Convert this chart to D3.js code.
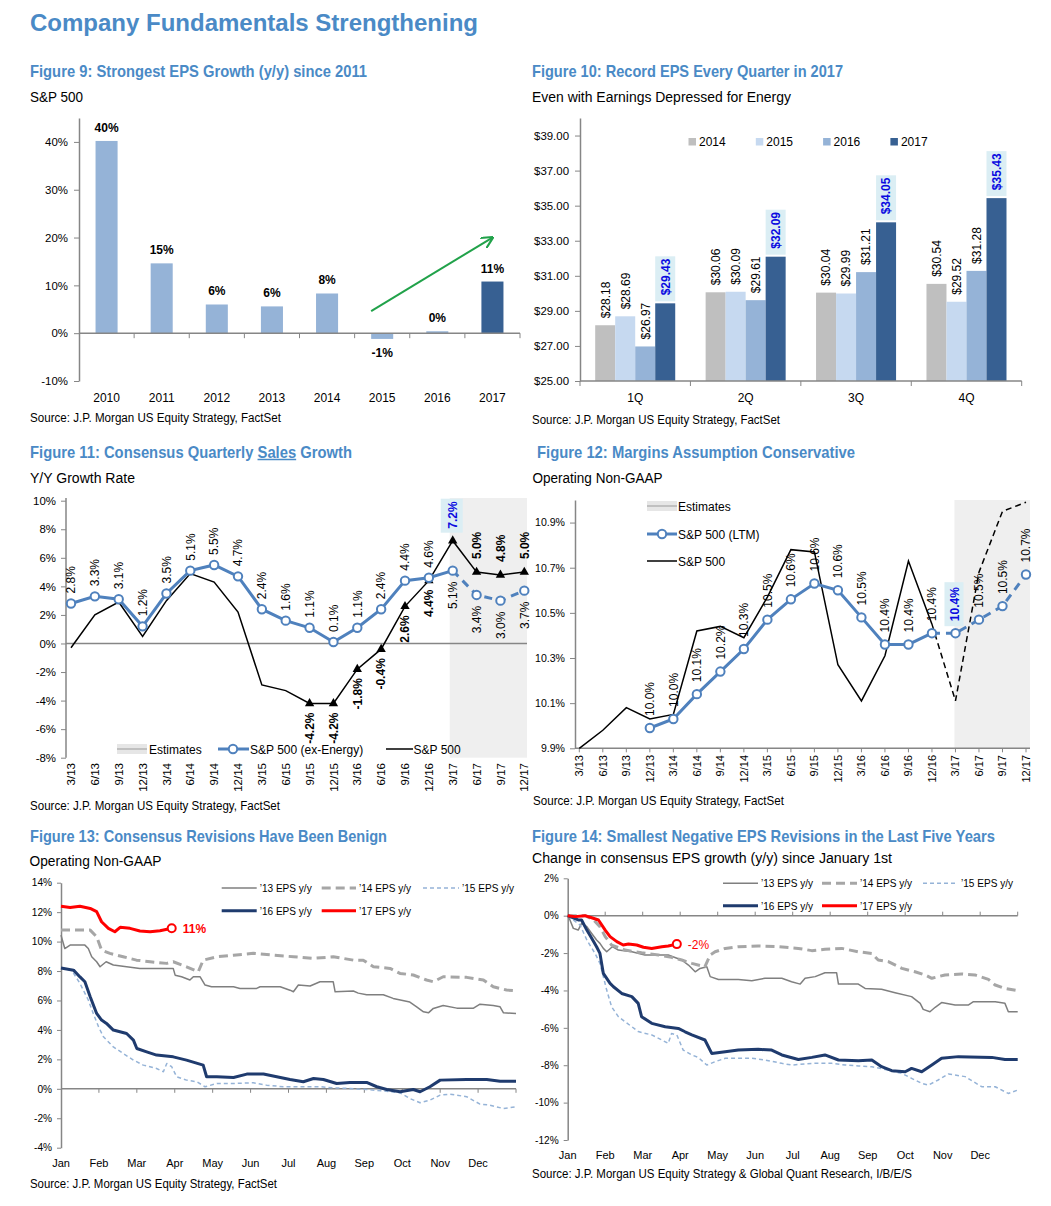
<!DOCTYPE html>
<html>
<head>
<meta charset="utf-8">
<script src="https://cdn.jsdelivr.net/npm/d3@7"></script>
<style>
  body { margin: 0; background: #fff; }
  svg { font-family: "Liberation Sans", Arial, sans-serif; }
</style>
</head>
<body>
<svg id="chart" width="1051" height="1206"></svg>
<script>
// ---------- data ----------
// Figure 9
var fig9_years = ['2010', '2011', '2012', '2013', '2014', '2015', '2016', '2017'],
    fig9_growth = [40.2, 14.6, 6.0, 5.6, 8.3, -1.2, 0.4, 10.8],
    fig9_labels = ['40%', '15%', '6%', '6%', '8%', '-1%', '0%', '11%'],
    fig9_ticks = [-10, 0, 10, 20, 30, 40];

// Figure 10
var fig10_quarters = ['1Q', '2Q', '3Q', '4Q'],
    fig10_years = ['2014', '2015', '2016', '2017'],
    eps_2014 = [28.18, 30.06, 30.04, 30.54],
    eps_2015 = [28.69, 30.09, 29.99, 29.52],
    eps_2016 = [26.97, 29.61, 31.21, 31.28],
    eps_2017 = [29.43, 32.09, 34.05, 35.43],
    fig10_ticks = [25, 27, 29, 31, 33, 35, 37, 39];

// Figure 11 / 12 (quarters)
var quarters = ['3/13', '6/13', '9/13', '12/13', '3/14', '6/14', '9/14', '12/14', '3/15', '6/15',
                '9/15', '12/15', '3/16', '6/16', '9/16', '12/16', '3/17', '6/17', '9/17', '12/17'],
    sales_ex_energy = [2.8, 3.3, 3.1, 1.2, 3.5, 5.1, 5.5, 4.7, 2.4, 1.6, 1.1, 0.1, 1.1, 2.4, 4.4, 4.6, 5.1, 3.4, 3.0, 3.7],
    sales_sp500 = [-0.3, 2.0, 2.9, 0.5, 3.0, 4.9, 4.3, 2.2, -2.9, -3.3, -4.2, -4.2, -1.8, -0.4, 2.6, 4.4, 7.2, 5.0, 4.8, 5.0],
    fig11_ticks = [-8, -6, -4, -2, 0, 2, 4, 6, 8, 10];

var margin_ltm = [null, null, null, 9.99, 10.03, 10.14, 10.24, 10.34, 10.47, 10.56,
                  10.63, 10.60, 10.48, 10.36, 10.36, 10.41, 10.41, 10.47, 10.53, 10.67],
    margin_sp500 = [9.90, 9.98, 10.08, 10.03, 10.05, 10.42, 10.44, 10.39, 10.57, 10.78,
                    10.77, 10.27, 10.11, 10.31, 10.73, 10.45, 10.11, 10.68, 10.95, 10.99],
    fig12_ticks = [9.9, 10.1, 10.3, 10.5, 10.7, 10.9];

// Figure 13 / 14: [months since Jan 1, value]
var months = ['Jan', 'Feb', 'Mar', 'Apr', 'May', 'Jun', 'Jul', 'Aug', 'Sep', 'Oct', 'Nov', 'Dec'],
    fig13_ticks = [-4, -2, 0, 2, 4, 6, 8, 10, 12, 14],
    fig14_ticks = [-12, -10, -8, -6, -4, -2, 0, 2];

var rev13_eps13 = [[0,10.44],[0.1,9.53],[0.24,9.76],[0.63,9.76],[0.72,9.53],[0.81,8.97],[0.94,8.63],[1.03,8.29],[1.19,8.63],[1.38,8.41],[1.73,8.29],[2.08,8.18],[2.96,8.18],[3.01,7.72],[3.18,7.61],[3.4,7.39],[3.49,7.61],[3.67,7.61],[3.8,7.05],[3.97,6.93],[4.55,6.93],[4.72,6.82],[5.16,6.82],[5.25,6.93],[5.78,6.93],[6.04,6.7],[6.13,6.59],[6.26,7.05],[6.57,6.98],[6.83,7.27],[7.18,7.27],[7.23,6.59],[7.71,6.64],[7.84,6.5],[8.06,6.39],[8.5,6.39],[8.76,6.14],[9.2,5.89],[9.38,5.57],[9.56,5.23],[9.69,5.16],[9.82,5.46],[10.08,5.66],[10.44,5.48],[10.88,5.48],[11.05,5.75],[11.4,5.66],[11.58,5.57],[11.67,5.16],[12,5.12]],
    rev13_eps14 = [[0,10.78],[0.77,10.78],[0.94,10.33],[1.07,9.42],[1.29,9.2],[1.64,8.97],[1.99,8.74],[2.35,8.63],[2.79,8.52],[2.96,8.63],[3.31,8.29],[3.62,7.95],[3.75,8.74],[4.11,8.97],[4.55,9.08],[5.07,9.2],[5.6,9.08],[6.13,8.97],[6.66,8.86],[7.18,8.97],[7.71,8.74],[7.97,8.74],[8.24,8.29],[8.68,8.18],[8.94,7.84],[9.29,7.73],[9.64,7.39],[9.82,7.27],[10.08,7.61],[10.7,7.57],[11.14,7.39],[11.4,6.93],[11.75,6.71],[12,6.66]],
    rev13_eps15 = [[0,8.2],[0.28,8.06],[0.5,7.16],[0.72,6.03],[0.85,5.12],[0.99,4.21],[1.12,3.53],[1.38,2.85],[1.64,2.4],[1.91,1.95],[2.17,1.61],[2.52,1.38],[2.7,1.16],[2.79,1.72],[2.92,1.5],[3.05,0.82],[3.31,0.59],[3.58,0.48],[3.8,0.14],[4.11,0.36],[4.55,0.36],[5.07,0.41],[5.42,0.25],[5.86,0.14],[6.3,0.14],[6.83,0.14],[7.18,0.07],[7.62,0.02],[8.06,-0.05],[8.5,-0.14],[8.94,-0.27],[9.2,-0.66],[9.47,-0.95],[9.73,-0.77],[10.0,-0.43],[10.26,-0.36],[10.7,-0.54],[11.05,-1.04],[11.31,-1.11],[11.67,-1.34],[12,-1.22]],
    rev13_eps16 = [[0,8.2],[0.33,8.06],[0.5,7.6],[0.63,7.27],[0.77,6.25],[0.94,5.12],[1.07,4.67],[1.2,4.44],[1.38,3.99],[1.73,3.76],[1.91,3.31],[2.0,2.74],[2.26,2.51],[2.52,2.29],[2.96,2.17],[3.31,1.95],[3.75,1.61],[3.84,0.82],[4.11,0.82],[4.55,0.77],[4.9,1.0],[5.34,1.0],[5.69,0.82],[6.04,0.63],[6.39,0.48],[6.66,0.7],[6.92,0.63],[7.27,0.36],[7.62,0.43],[8.06,0.43],[8.33,0.14],[8.59,-0.05],[8.94,-0.2],[9.29,-0.05],[9.47,-0.2],[9.73,0.14],[10.0,0.59],[10.7,0.63],[11.23,0.63],[11.58,0.52],[12,0.52]],
    rev13_eps17 = [[0,12.4],[0.24,12.32],[0.5,12.4],[0.77,12.25],[0.94,12.03],[1.07,11.35],[1.25,10.9],[1.42,10.67],[1.56,10.97],[1.82,10.9],[2.08,10.72],[2.35,10.67],[2.61,10.74],[2.92,10.9]];

var rev14_eps13 = [[0,0],[0.06,-0.23],[0.15,-0.68],[0.28,-0.77],[0.37,-0.41],[0.51,-0.59],[0.64,-0.95],[0.77,-1.3],[0.86,-1.48],[0.95,-1.75],[1.04,-1.93],[1.19,-1.66],[1.35,-1.84],[1.71,-1.93],[2.06,-2.1],[2.68,-2.1],[3.04,-2.37],[3.22,-2.64],[3.4,-3.0],[3.53,-2.82],[3.71,-2.73],[3.8,-3.26],[4.02,-3.41],[4.55,-3.41],[4.91,-3.48],[5.26,-3.35],[5.71,-3.35],[5.97,-3.53],[6.2,-3.66],[6.33,-3.35],[6.6,-3.26],[6.86,-3.05],[7.17,-3.05],[7.22,-3.66],[7.75,-3.66],[7.93,-3.89],[8.37,-3.94],[8.73,-4.12],[9.17,-4.33],[9.4,-4.69],[9.48,-5.01],[9.66,-5.14],[9.8,-4.9],[9.97,-4.65],[10.33,-4.78],[10.68,-4.78],[10.82,-4.6],[11.4,-4.6],[11.66,-4.69],[11.75,-5.14],[12,-5.14]],
    rev14_eps14 = [[0,0],[0.46,0],[0.68,-0.2],[0.86,-0.59],[1.0,-1.12],[1.17,-1.57],[1.53,-1.84],[1.97,-1.98],[2.42,-2.1],[2.77,-2.23],[3.04,-2.37],[3.31,-2.55],[3.66,-2.73],[3.8,-2.1],[3.93,-1.93],[4.2,-1.75],[4.55,-1.66],[5.08,-1.62],[5.62,-1.66],[6.15,-1.75],[6.51,-1.87],[6.86,-1.8],[7.31,-1.75],[7.75,-1.93],[8.11,-2.02],[8.28,-2.37],[8.55,-2.46],[8.91,-2.82],[9.26,-3.0],[9.53,-3.17],[9.71,-3.35],[10.06,-3.17],[10.51,-3.12],[10.86,-3.17],[11.22,-3.41],[11.4,-3.71],[11.66,-3.89],[12,-4.01]],
    rev14_eps15 = [[0,0],[0.33,-0.5],[0.51,-1.3],[0.73,-2.02],[0.86,-2.55],[0.95,-3.26],[1.04,-3.98],[1.17,-4.87],[1.35,-5.4],[1.53,-5.67],[1.71,-5.94],[1.88,-6.2],[2.24,-6.38],[2.51,-6.65],[2.68,-6.83],[2.77,-6.3],[2.91,-6.38],[3.08,-7.19],[3.31,-7.45],[3.48,-7.58],[3.71,-7.99],[3.93,-7.81],[4.2,-7.63],[4.91,-7.63],[5.26,-7.72],[5.71,-7.9],[5.97,-7.99],[6.51,-7.9],[7.04,-7.9],[7.4,-7.99],[7.75,-8.04],[8.11,-8.08],[8.55,-8.26],[8.91,-8.44],[9.17,-8.7],[9.44,-8.97],[9.62,-9.06],[9.88,-8.79],[10.15,-8.47],[10.6,-8.61],[10.82,-8.88],[11.04,-9.15],[11.4,-9.15],[11.75,-9.51],[12,-9.33]],
    rev14_eps16 = [[0,0],[0.28,-0.23],[0.37,-0.23],[0.51,-0.77],[0.64,-1.21],[0.77,-1.66],[0.86,-2.02],[0.95,-3.09],[1.13,-3.62],[1.22,-3.8],[1.44,-4.16],[1.71,-4.33],[1.88,-4.69],[1.97,-5.4],[2.24,-5.76],[2.6,-5.94],[2.95,-6.03],[3.13,-6.21],[3.31,-6.38],[3.66,-6.65],[3.84,-7.37],[4.2,-7.28],[4.55,-7.19],[5.08,-7.15],[5.44,-7.19],[5.71,-7.45],[6.15,-7.69],[6.51,-7.58],[6.86,-7.45],[7.22,-7.72],[7.75,-7.76],[8.11,-7.72],[8.37,-8.08],[8.64,-8.29],[9.0,-8.35],[9.17,-8.17],[9.44,-8.35],[9.71,-7.99],[9.97,-7.63],[10.42,-7.54],[11.31,-7.58],[11.66,-7.69],[12,-7.69]],
    rev14_eps17 = [[0,0],[0.2,-0.05],[0.46,0],[0.64,-0.11],[0.82,-0.23],[1.0,-0.77],[1.13,-1.12],[1.31,-1.39],[1.48,-1.57],[1.62,-1.52],[1.84,-1.57],[2.02,-1.69],[2.24,-1.75],[2.51,-1.66],[2.68,-1.62],[2.91,-1.52]];

var rev_names = ['\u201913 EPS y/y', '\u201914 EPS y/y', '\u201915 EPS y/y', '\u201916 EPS y/y', '\u201917 EPS y/y'];

// ---------- styles ----------
var title_blue = '#4a8ac6',
    axis_grey = '#868686',
    bar_light = '#95b3d7',
    bar_dark = '#376092',
    ltm_blue = '#4f81bd',
    est_fill = '#efefef',
    box_fill = '#dbeef4',
    hi_blue = '#0a0ae0';

var rev_styles = [
  {color: '#7f7f7f', width: 1.5, dash: null},
  {color: '#a6a6a6', width: 3, dash: '9,5'},
  {color: '#95b3d7', width: 1.5, dash: '4,3'},
  {color: '#1f3b6e', width: 3, dash: null},
  {color: '#ff0000', width: 3, dash: null}
];

var svg = d3.select('#chart');

// narrow face for titles / ticks if the machine has it
function has_font(name) {
  var t = svg.append('text').attr('font-size', 40).text('abcdefghijklmnopqrstuvwxyz0123');
  t.attr('font-family', 'monospace');
  var w0 = t.node().getComputedTextLength();
  t.attr('font-family', '"' + name + '", monospace');
  var w1 = t.node().getComputedTextLength();
  t.remove();
  return Math.abs(w0 - w1) > 1;
}
var has_narrow = has_font('Liberation Sans Narrow'),
    narrow_font = has_narrow ? '"Liberation Sans Narrow", "Liberation Sans", Arial, sans-serif' : null,
    tick_scale = has_narrow ? 1 : 0.88;

function add_text(g, x, y, str, size, o) {
  o = o || {};
  var t = g.append('text')
    .attr('x', x).attr('y', y)
    .attr('font-size', size)
    .attr('font-family', o.narrow ? narrow_font : null)
    .attr('font-weight', o.bold ? 'bold' : null)
    .attr('fill', o.fill || '#000')
    .attr('text-anchor', o.anchor || 'start')
    .text(str);
  if (o.width) {
    // keep the natural run inside the page, then fit it to the measured width
    var nat = t.node().getComputedTextLength();
    if (x + nat > 1046) t.attr('font-size', size * (1046 - x) / nat);
    t.attr('textLength', o.width).attr('lengthAdjust', 'spacingAndGlyphs');
  }
  return t;
}

// rotated label: 'start' grows upward from y, 'end' finishes at y and grows downward
function vlabel(g, x, y, str, size, o) {
  o = o || {};
  return g.append('text')
    .attr('transform', 'translate(' + (x + size * 0.36) + ',' + y + ') rotate(-90)')
    .attr('text-anchor', o.anchor || 'start')
    .attr('font-size', size)
    .attr('font-weight', o.bold ? 'bold' : null)
    .attr('fill', o.fill || '#000')
    .text(str);
}

function style_axis(g, size) {
  g.attr('font-family', narrow_font).attr('font-size', null);
  g.select('.domain').attr('stroke', axis_grey).attr('stroke-width', 1.5);
  g.selectAll('.tick line').attr('stroke', axis_grey).attr('stroke-width', 1);
  g.selectAll('.tick text').attr('font-size', size * tick_scale).attr('fill', '#000');
}

function hline(g, x1, x2, y, color, w, dash) {
  return g.append('line').attr('x1', x1).attr('x2', x2).attr('y1', y).attr('y2', y)
    .attr('stroke', color).attr('stroke-width', w).attr('stroke-dasharray', dash || null);
}

function vtick(g, x, y, len) {
  g.append('line').attr('x1', x).attr('x2', x).attr('y1', y).attr('y2', y + len)
    .attr('stroke', axis_grey).attr('stroke-width', 1);
}

function pct(d) { return d + '%'; }

// ---------- headings ----------
add_text(svg, 30, 31, 'Company Fundamentals Strengthening', 24, {bold: 1, fill: title_blue, width: 448});

add_text(svg, 30, 77, 'Figure 9: Strongest EPS Growth (y/y) since 2011', 17, {bold: 1, narrow: 1, fill: title_blue, width: 337});
add_text(svg, 30, 102, 'S&P 500', 14, {width: 53});
add_text(svg, 30, 422, 'Source: J.P. Morgan US Equity Strategy, FactSet', 12, {width: 251});

add_text(svg, 532, 77, 'Figure 10: Record EPS Every Quarter in 2017', 17, {bold: 1, narrow: 1, fill: title_blue, width: 311});
add_text(svg, 532, 101.5, 'Even with Earnings Depressed for Energy', 14, {width: 259});
add_text(svg, 532, 424, 'Source: J.P. Morgan US Equity Strategy, FactSet', 12, {width: 248});

var t11 = add_text(svg, 30, 457.5, 'Figure 11: Consensus Quarterly Sales Growth', 17, {bold: 1, narrow: 1, fill: title_blue, width: 322});
(function() {
  var node = t11.node(), s0 = 'Figure 11: Consensus Quarterly '.length, s1 = s0 + 4;
  var a = node.getStartPositionOfChar(s0).x, b = node.getEndPositionOfChar(s1).x;
  hline(svg, a, b, 459.5, title_blue, 1.3);
})();
add_text(svg, 30, 483, 'Y/Y Growth Rate', 14, {width: 105});
add_text(svg, 30, 810, 'Source: J.P. Morgan US Equity Strategy, FactSet', 12, {width: 250});

add_text(svg, 537, 458, 'Figure 12: Margins Assumption Conservative', 17, {bold: 1, narrow: 1, fill: title_blue, width: 318});
add_text(svg, 532.5, 483, 'Operating Non-GAAP', 14, {width: 130});
add_text(svg, 533, 805, 'Source: J.P. Morgan US Equity Strategy, FactSet', 12, {width: 251});

add_text(svg, 30, 842, 'Figure 13: Consensus Revisions Have Been Benign', 17, {bold: 1, narrow: 1, fill: title_blue, width: 357});
add_text(svg, 29.5, 866, 'Operating Non-GAAP', 14, {width: 132});
add_text(svg, 30, 1188, 'Source: J.P. Morgan US Equity Strategy, FactSet', 12, {width: 247});

add_text(svg, 532, 842, 'Figure 14: Smallest Negative EPS Revisions in the Last Five Years', 17, {bold: 1, narrow: 1, fill: title_blue, width: 463});
add_text(svg, 532, 863, 'Change in consensus EPS growth (y/y) since January 1st', 14, {width: 360});
add_text(svg, 532, 1178, 'Source: J.P. Morgan US Equity Strategy & Global Quant Research, I/B/E/S', 12, {width: 380});

// ---------- Figure 9 ----------
var g9 = svg.append('g');
var x9 = d3.scaleBand().domain(fig9_years).range([79, 520]).paddingInner(0.6).paddingOuter(0.3),
    y9 = d3.scaleLinear().domain([-10, 45]).range([381, 118]);

g9.selectAll('rect.bar').data(fig9_growth).enter().append('rect')
  .attr('class', 'bar')
  .attr('x', function(d, i) { return x9(fig9_years[i]); })
  .attr('width', x9.bandwidth())
  .attr('y', function(d) { return y9(Math.max(d, 0)); })
  .attr('height', function(d) { return Math.abs(y9(d) - y9(0)); })
  .attr('fill', function(d, i) { return i === fig9_years.length - 1 ? bar_dark : bar_light; });

g9.append('g').attr('transform', 'translate(79,0)')
  .call(d3.axisLeft(y9).tickValues(fig9_ticks).tickFormat(pct).tickSize(5).tickSizeOuter(0).tickPadding(6))
  .call(style_axis, 13);

hline(g9, 79, 520, y9(0), axis_grey, 1.5);
d3.range(1, fig9_years.length + 1).forEach(function(i) { vtick(g9, 79 + i * x9.step(), y9(0), 5); });

fig9_years.forEach(function(yr, i) {
  var cx = x9(yr) + x9.bandwidth() / 2, v = fig9_growth[i];
  add_text(g9, cx, 401.5, yr, 12, {anchor: 'middle'});
  add_text(g9, cx, v >= 0 ? y9(v) - 9 : y9(v) + 18, fig9_labels[i], 12, {anchor: 'middle', bold: 1});
});

svg.append('defs').append('marker')
  .attr('id', 'arrow_green').attr('viewBox', '0 0 10 10').attr('refX', 9).attr('refY', 5)
  .attr('markerWidth', 6).attr('markerHeight', 6).attr('orient', 'auto')
  .append('path').attr('d', 'M0,0 L10,5 L0,10').attr('fill', 'none').attr('stroke', '#21a24a').attr('stroke-width', 1.8);
g9.append('line')
  .attr('x1', x9('2015')).attr('y1', y9(4.6))
  .attr('x2', x9('2017') + x9.bandwidth() / 2).attr('y2', y9(20))
  .attr('stroke', '#21a24a').attr('stroke-width', 2).attr('marker-end', 'url(#arrow_green)');

// ---------- Figure 10 ----------
var g10 = svg.append('g');
var x10 = d3.scaleBand().domain(fig10_quarters).range([580, 1021.7]),
    x10_inner = d3.scaleBand().domain(fig10_years).range([0, x10.bandwidth()]).paddingInner(0).paddingOuter(0.76),
    y10 = d3.scaleLinear().domain([25, 40]).range([381, 118]),
    fig10_colors = d3.scaleOrdinal().domain(fig10_years).range(['#bfbfbf', '#c6d9f0', bar_light, bar_dark]);

var eps_series = [eps_2014, eps_2015, eps_2016, eps_2017];

g10.append('g').attr('transform', 'translate(580,0)')
  .call(d3.axisLeft(y10).tickValues(fig10_ticks).tickFormat(function(d) { return '$' + d.toFixed(2); })
        .tickSize(5).tickSizeOuter(0).tickPadding(6))
  .call(style_axis, 13);

fig10_years.forEach(function(yr, s) {
  var vals = eps_series[s];
  fig10_quarters.forEach(function(q, i) {
    var bx = x10(q) + x10_inner(yr), bw = x10_inner.bandwidth(), top = y10(vals[i]);
    g10.append('rect').attr('x', bx).attr('width', bw).attr('y', top).attr('height', y10(25) - top)
      .attr('fill', fig10_colors(yr));
    if (s === fig10_years.length - 1) {
      g10.append('rect').attr('x', bx).attr('width', bw).attr('y', top - 47).attr('height', 45).attr('fill', box_fill);
      vlabel(g10, bx + bw / 2, top - 8, '$' + vals[i].toFixed(2), 12, {bold: 1, fill: hi_blue});
    } else {
      vlabel(g10, bx + bw / 2, top - 7, '$' + vals[i].toFixed(2), 12);
    }
  });
});

hline(g10, 580, 1021.7, y10(25), axis_grey, 1.5);
d3.range(0, fig10_quarters.length + 1).forEach(function(i) { vtick(g10, 580 + i * x10.step(), y10(25), 5); });
fig10_quarters.forEach(function(q) {
  add_text(g10, x10(q) + x10.bandwidth() / 2, 401.5, q, 12, {anchor: 'middle'});
});

fig10_years.forEach(function(yr, i) {
  var lx = 688.5 + i * 67.3;
  g10.append('rect').attr('x', lx).attr('y', 138).attr('width', 7.5).attr('height', 7.5).attr('fill', fig10_colors(yr));
  add_text(g10, lx + 10.5, 146, yr, 12);
});

// ---------- Figure 11 ----------
var g11 = svg.append('g');
var x11 = d3.scalePoint().domain(quarters).range([71, 524.3]),
    y11 = d3.scaleLinear().domain([-8, 10]).range([757.7, 500.7]);

g11.append('rect').attr('x', x11('3/17') - 3).attr('y', 498).attr('width', 527 - x11('3/17') + 3)
  .attr('height', y11(-8) - 498).attr('fill', est_fill);

g11.append('g').attr('transform', 'translate(66,0)')
  .call(d3.axisLeft(y11).tickValues(fig11_ticks).tickFormat(pct).tickSize(5).tickSizeOuter(0).tickPadding(5))
  .call(style_axis, 13);
g11.select('.domain').attr('d', 'M0,498V' + y11(-8));

hline(g11, 66, 527, y11(0), axis_grey, 1.5);

quarters.forEach(function(q) { vlabel(g11, x11(q), 763, q, 11.5, {anchor: 'end'}); });

var pts_ex = quarters.map(function(q, i) { return {q: q, v: sales_ex_energy[i], i: i}; }),
    pts_sp = quarters.map(function(q, i) { return {q: q, v: sales_sp500[i], i: i}; });
var line11 = d3.line().x(function(d) { return x11(d.q); }).y(function(d) { return y11(d.v); });

g11.append('path').attr('d', line11(pts_sp)).attr('fill', 'none').attr('stroke', '#000').attr('stroke-width', 1.5);
g11.append('path').attr('d', line11(pts_ex.slice(0, 17))).attr('fill', 'none').attr('stroke', ltm_blue).attr('stroke-width', 3);
g11.append('path').attr('d', line11(pts_ex.slice(16))).attr('fill', 'none').attr('stroke', ltm_blue)
  .attr('stroke-width', 3).attr('stroke-dasharray', '8,6');

g11.selectAll('path.tri').data(pts_sp.slice(10)).enter().append('path')
  .attr('class', 'tri')
  .attr('transform', function(d) { return 'translate(' + x11(d.q) + ',' + y11(d.v) + ')'; })
  .attr('d', d3.symbol().type(d3.symbolTriangle).size(38))
  .attr('fill', '#000');

g11.selectAll('circle.pt').data(pts_ex).enter().append('circle')
  .attr('class', 'pt')
  .attr('cx', function(d) { return x11(d.q); }).attr('cy', function(d) { return y11(d.v); })
  .attr('r', 4.2).attr('fill', '#fff').attr('stroke', ltm_blue).attr('stroke-width', 2);

pts_ex.forEach(function(d) {
  var above = d.i < 16;
  vlabel(g11, x11(d.q), above ? y11(d.v) - 10 : y11(d.v) + 11, d.v.toFixed(1) + '%', 12, {anchor: above ? 'start' : 'end'});
});
pts_sp.slice(10).forEach(function(d) {
  var s = d.v.toFixed(1) + '%';
  if (d.i === 16) {
    g11.append('rect').attr('x', x11(d.q) - 12).attr('y', y11(d.v) - 42).attr('width', 22).attr('height', 34).attr('fill', box_fill);
    vlabel(g11, x11(d.q), y11(d.v) - 12, s, 12, {bold: 1, fill: hi_blue});
  } else if (d.i > 16) {
    vlabel(g11, x11(d.q), y11(d.v) - 13, s, 12, {bold: 1});
  } else {
    vlabel(g11, x11(d.q), y11(d.v) + 9, s, 12, {bold: 1, anchor: 'end'});
  }
});

// legend
g11.append('rect').attr('x', 117).attr('y', 744).attr('width', 30).attr('height', 10).attr('fill', '#e6e6e6');
hline(g11, 117, 147, 749, '#9a9a9a', 1);
add_text(g11, 149, 754, 'Estimates', 12);
hline(g11, 218, 249, 749, ltm_blue, 3);
g11.append('circle').attr('cx', 233).attr('cy', 749).attr('r', 4.2).attr('fill', '#fff').attr('stroke', ltm_blue).attr('stroke-width', 2);
add_text(g11, 250, 754, 'S&P 500 (ex-Energy)', 12);
hline(g11, 386, 413, 749, '#000', 1.5);
add_text(g11, 413.5, 754, 'S&P 500', 12);

// ---------- Figure 12 ----------
var g12 = svg.append('g');
var x12 = d3.scalePoint().domain(quarters).range([579.3, 1026]),
    y12 = d3.scaleLinear().domain([9.9, 11.0]).range([748.3, 500]);

g12.append('rect').attr('x', x12('3/17') - 1).attr('y', 500).attr('width', 1030 - x12('3/17') + 1)
  .attr('height', y12(9.9) - 500).attr('fill', est_fill);

g12.append('g').attr('transform', 'translate(575,0)')
  .call(d3.axisLeft(y12).tickValues(fig12_ticks).tickFormat(function(d) { return d.toFixed(1) + '%'; })
        .tickSize(5).tickSizeOuter(0).tickPadding(5))
  .call(style_axis, 12);

hline(g12, 575, 1030, y12(9.9), axis_grey, 1.5);
quarters.forEach(function(q) {
  vtick(g12, x12(q), y12(9.9), 4);
  vlabel(g12, x12(q), 755, q, 11, {anchor: 'end'});
});

var pts_ltm = [], pts_mg = [];
quarters.forEach(function(q, i) {
  if (margin_ltm[i] !== null) pts_ltm.push({q: q, v: margin_ltm[i], i: i});
  pts_mg.push({q: q, v: margin_sp500[i], i: i});
});
var line12 = d3.line().x(function(d) { return x12(d.q); }).y(function(d) { return y12(d.v); });

g12.append('path').attr('d', line12(pts_mg.slice(0, 16))).attr('fill', 'none').attr('stroke', '#000').attr('stroke-width', 1.5);
g12.append('path').attr('d', line12(pts_mg.slice(15))).attr('fill', 'none').attr('stroke', '#000')
  .attr('stroke-width', 1.5).attr('stroke-dasharray', '6,4');

var ltm_solid = pts_ltm.filter(function(d) { return d.i <= 15; }),
    ltm_dash = pts_ltm.filter(function(d) { return d.i >= 15; });
g12.append('path').attr('d', line12(ltm_solid)).attr('fill', 'none').attr('stroke', ltm_blue).attr('stroke-width', 3);
g12.append('path').attr('d', line12(ltm_dash)).attr('fill', 'none').attr('stroke', ltm_blue)
  .attr('stroke-width', 3).attr('stroke-dasharray', '8,6');

g12.selectAll('circle.pt').data(pts_ltm).enter().append('circle')
  .attr('class', 'pt')
  .attr('cx', function(d) { return x12(d.q); }).attr('cy', function(d) { return y12(d.v); })
  .attr('r', 4.2).attr('fill', '#fff').attr('stroke', ltm_blue).attr('stroke-width', 2);

pts_ltm.forEach(function(d) {
  var s = d.v.toFixed(1) + '%';
  if (d.i === 16) {
    g12.append('rect').attr('x', x12(d.q) - 11).attr('y', y12(d.v) - 51).attr('width', 19).attr('height', 44).attr('fill', box_fill);
    vlabel(g12, x12(d.q) - 1, y12(d.v) - 12, s, 12, {bold: 1, fill: hi_blue});
  } else {
    vlabel(g12, x12(d.q), y12(d.v) - 12, s, 12);
  }
});

// legend
g12.append('rect').attr('x', 647).attr('y', 501).attr('width', 30).attr('height', 10).attr('fill', '#e6e6e6');
hline(g12, 647, 677, 506, '#9a9a9a', 1);
add_text(g12, 678, 511, 'Estimates', 12);
hline(g12, 647, 677, 534, ltm_blue, 3);
g12.append('circle').attr('cx', 662).attr('cy', 534).attr('r', 4.2).attr('fill', '#fff').attr('stroke', ltm_blue).attr('stroke-width', 2);
add_text(g12, 678, 538.5, 'S&P 500 (LTM)', 12);
hline(g12, 647, 677, 561, '#000', 1.5);
add_text(g12, 678, 565.5, 'S&P 500', 12);

// ---------- Figure 13 / 14 shared drawing ----------
function draw_revisions(g, x, y, ticks, series, o) {
  g.append('g').attr('transform', 'translate(' + x.range()[0] + ',0)')
    .call(d3.axisLeft(y).tickValues(ticks).tickFormat(pct).tickSize(4).tickSizeOuter(0).tickPadding(5))
    .call(style_axis, 11.5);
  hline(g, x.range()[0], x.range()[1], y(0), axis_grey, 1.5);
  d3.range(1, 13).forEach(function(m) { vtick(g, x(m), y(0), o.tick_dir * 4); });
  months.forEach(function(m, i) {
    add_text(g, x(i), o.month_y, m, 11, {anchor: 'middle', narrow: 1});
  });

  var line = d3.line().x(function(d) { return x(d[0]); }).y(function(d) { return y(d[1]); });
  series.forEach(function(s, k) {
    var st = rev_styles[k];
    g.append('path').attr('d', line(s)).attr('fill', 'none')
      .attr('stroke', st.color).attr('stroke-width', st.width)
      .attr('stroke-dasharray', st.dash).attr('stroke-linejoin', 'round');
  });
  var last = series[4][series[4].length - 1];
  g.append('circle').attr('cx', x(last[0])).attr('cy', y(last[1])).attr('r', 4)
    .attr('fill', '#fff').attr('stroke', '#ff0000').attr('stroke-width', 2);
  add_text(g, x(last[0]) + 11, y(last[1]) + 4.5, o.end_label, 12, {fill: '#ff0000', bold: o.end_bold, narrow: 1});

  // legend
  var cols = [[o.lx[0], o.lx[1]], [o.lx[2], o.lx[3]], [o.lx[4], o.lx[5]]];
  rev_names.forEach(function(nm, k) {
    var c = cols[k % 3], ly = k < 3 ? o.ly[0] : o.ly[1], st = rev_styles[k];
    if (k >= 3) c = cols[k - 3];
    hline(g, c[0], c[1], ly, st.color, st.width, st.dash);
    add_text(g, c[1] + 3, ly + 4, nm, 11.5, {narrow: 1, width: 52});
  });
}

var g13 = svg.append('g');
var x13 = d3.scaleLinear().domain([0, 12]).range([61, 516]),
    y13 = d3.scaleLinear().domain([-4, 14]).range([1147.7, 882.7]);
draw_revisions(g13, x13, y13, fig13_ticks, [rev13_eps13, rev13_eps14, rev13_eps15, rev13_eps16, rev13_eps17],
  {tick_dir: 1, month_y: 1167, end_label: '11%', end_bold: 1,
   lx: [221.7, 256.7, 321.7, 356, 423, 459], ly: [888, 910.7]});

var g14 = svg.append('g');
var x14 = d3.scaleLinear().domain([0, 12]).range([567.7, 1017.7]),
    y14 = d3.scaleLinear().domain([-12, 2]).range([1140, 878.3]);
draw_revisions(g14, x14, y14, fig14_ticks, [rev14_eps13, rev14_eps14, rev14_eps15, rev14_eps16, rev14_eps17],
  {tick_dir: -1, month_y: 1159, end_label: '-2%', end_bold: 0,
   lx: [723, 758, 822, 857, 923, 958], ly: [883.3, 905.7]});
</script>
</body>
</html>
